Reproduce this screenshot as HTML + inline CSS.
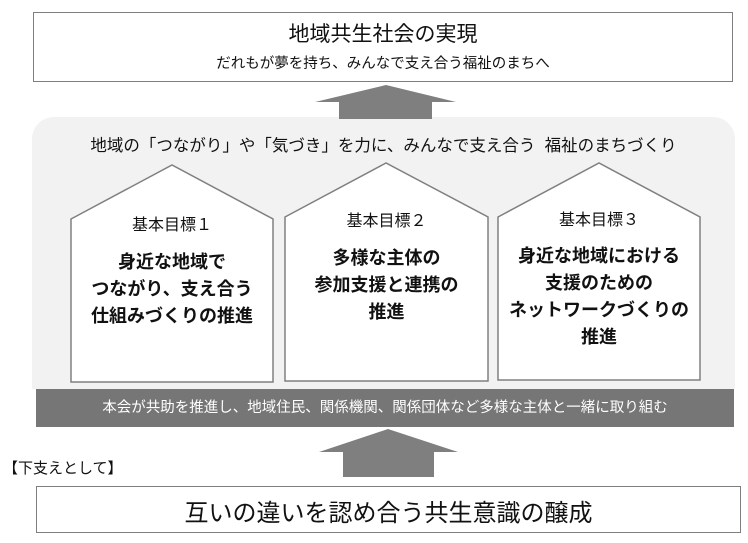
<!DOCTYPE html>
<html><head><meta charset="utf-8"><style>
body{margin:0;width:748px;height:543px;background:#fff;position:relative;overflow:hidden;font-family:"Liberation Sans","Noto Sans CJK JP",sans-serif;color:#111}
.a{position:absolute}
.c{text-align:center;white-space:nowrap}
</style></head><body>
<div class="a" style="left:33px;top:12px;width:698px;height:68px;border:1.5px solid #7f7f7f"></div>
<div class="a c" style="left:33px;top:18px;width:700px;font-size:21px">地域共生社会の実現</div>
<div class="a c" style="left:33px;top:52px;width:700px;font-size:14.5px">だれもが夢を持ち、みんなで支え合う福祉のまちへ</div>
<div class="a" style="left:32px;top:117px;width:703px;height:272px;background:#f2f2f2;border-radius:22px 22px 0 0"></div>
<svg class="a" style="left:0;top:0" width="748" height="543">
<polygon points="386,85 456,102 432,102 432,119 339,119 339,102 315,102" fill="#7f7f7f"/>
<polygon points="388,429 458,452 434,452 434,477 343,477 343,452 319,452" fill="#7f7f7f"/>
<polygon points="71,219 172,165 273,219 273,382 71,382" fill="#fff" stroke="#808080" stroke-width="1.5"/>
<polygon points="285,217 386,163 488,217 488,381 285,381" fill="#fff" stroke="#808080" stroke-width="1.5"/>
<polygon points="498,217 599,163 700,217 700,380 498,380" fill="#fff" stroke="#808080" stroke-width="1.5"/>
</svg>
<div class="a c" style="left:32px;top:132px;width:703px;font-size:16.5px">地域の「つながり」や「気づき」を力に、みんなで支え合う&nbsp;&nbsp;福祉のまちづくり</div>
<div class="a c" style="left:71px;top:211px;width:202px;font-size:16px">基本目標１</div>
<div class="a c" style="left:71px;top:249px;width:202px;font-size:18px;font-weight:bold;line-height:27px">身近な地域で<br>つながり、支え合う<br>仕組みづくりの推進</div>
<div class="a c" style="left:285px;top:207px;width:203px;font-size:16px">基本目標２</div>
<div class="a c" style="left:285px;top:245px;width:203px;font-size:18px;font-weight:bold;line-height:27px">多様な主体の<br>参加支援と連携の<br>推進</div>
<div class="a c" style="left:498px;top:206px;width:202px;font-size:16px">基本目標３</div>
<div class="a c" style="left:498px;top:243px;width:202px;font-size:18px;font-weight:bold;line-height:27px">身近な地域における<br>支援のための<br>ネットワークづくりの<br>推進</div>
<div class="a c" style="left:36px;top:389px;width:698px;height:38px;background:#767676;color:#fff;font-size:14.5px;line-height:38px">本会が共助を推進し、地域住民、関係機関、関係団体など多様な主体と一緒に取り組む</div>
<div class="a" style="left:3px;top:457px;font-size:15px">【下支えとして】</div>
<div class="a" style="left:36px;top:486px;width:703px;height:45px;border:1.5px solid #7f7f7f"></div>
<div class="a c" style="left:36px;top:493px;width:705px;font-size:24px">互いの違いを認め合う共生意識の醸成</div>
</body></html>
